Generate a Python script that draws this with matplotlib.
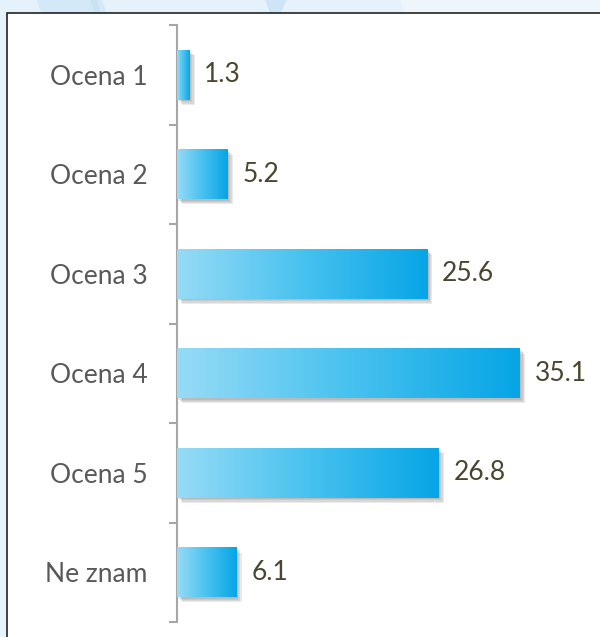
import numpy as np
import matplotlib.pyplot as plt
from matplotlib.patches import Rectangle, Polygon
import matplotlib.patheffects as pe

categories = ["Ocena 1", "Ocena 2", "Ocena 3", "Ocena 4", "Ocena 5", "Ne znam"]
values = [1.3, 5.2, 25.6, 35.1, 26.8, 6.1]

W, H = 600, 637
fig = plt.figure(figsize=(W / 100, H / 100), dpi=100)
fig.patch.set_facecolor("#e6f2fb")

# light diagonal shapes in the background strip (pixel coords)
shapes = [
    ([(95, 637), (120, 610), (290, 610), (265, 637)], "#d4e9f7"),
    ([(235, 637), (260, 610), (275, 610), (250, 637)], "#c8e2f4"),
    ([(690, 637), (715, 610), (745, 637)], "#cfe5f5"),
    ([(1040, 637), (1065, 610), (1600, 610), (1600, 637)], "#eef6fc"),
]
for pts, c in shapes:
    fig.patches.append(Polygon([(x / 2.6 / W, y / H) for x, y in pts], closed=True,
                               transform=fig.transFigure, facecolor=c,
                               edgecolor="none", zorder=0))

# white panel
fig.patches.append(Rectangle((7 / W, -0.01), 1.0, (H - 13) / H + 0.01,
                             transform=fig.transFigure, facecolor="white",
                             edgecolor="#222222", linewidth=1.2, zorder=1))

ax = fig.add_axes([177 / W, 15 / H, 1 - 177 / W, (622 - 25) / H])
ax.set_facecolor("none")
ax.set_zorder(2)

y = np.arange(len(categories))
xmax = (W - 177) / 9.77

grad = np.linspace(0, 1, 256).reshape(1, -1)
cmap = plt.matplotlib.colors.LinearSegmentedColormap.from_list(
    "blu", ["#97dbf6", "#48c2ef", "#06a5e6"])

bars = ax.barh(y, values, height=0.5, color="none", edgecolor="none")
for b, v in zip(bars, values):
    x0, y0 = b.get_x(), b.get_y()
    w, h = b.get_width(), b.get_height()
    sh = Rectangle((x0, y0), w, h, facecolor="white", edgecolor="none", zorder=2)
    effects = []
    for k in range(4):
        effects.append(pe.SimplePatchShadow(offset=(1 + k * 0.9, -1 - k * 0.9),
                                            shadow_rgbFace="#606060", alpha=0.13))
    effects.append(pe.Normal())
    sh.set_path_effects(effects)
    ax.add_patch(sh)
    im = ax.imshow(grad, cmap=cmap, aspect="auto", extent=(x0, x0 + w, y0 + h, y0),
                   zorder=3, interpolation="bilinear")
    im.set_clip_path(Rectangle((x0, y0), w, h, transform=ax.transData))
    ax.text(v + 1.5, b.get_y() + h / 2, f"{v}", va="center", ha="left",
            fontsize=19, color="#4a4630", family="Lato")

ax.set_ylim(len(categories) - 0.5, -0.5)
ax.set_xlim(0, xmax)

for s in ["top", "right", "bottom"]:
    ax.spines[s].set_visible(False)
ax.spines["left"].set_color("#a6a6a6")
ax.spines["left"].set_linewidth(1.5)
ax.set_xticks([])
ax.set_yticks(y)
ax.set_yticklabels(categories, fontsize=19, color="#595959", family="Lato")
ax.tick_params(axis="y", which="major", length=0, pad=21)
ax.set_yticks(np.arange(-0.5, len(categories)), minor=True)
ax.tick_params(axis="y", which="minor", length=6, color="#a6a6a6", width=1.5)

fig.savefig("out.png", dpi=100)
